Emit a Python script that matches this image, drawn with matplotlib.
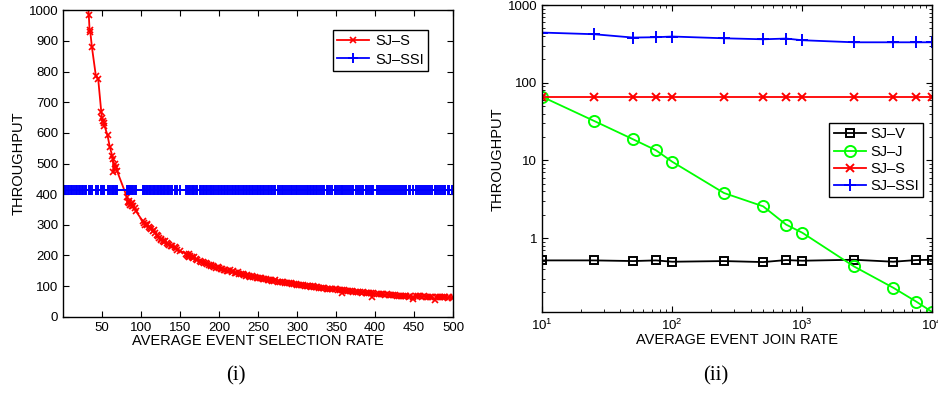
import matplotlib
matplotlib.use("Agg")
import matplotlib.pyplot as plt
from matplotlib.ticker import LogLocator, NullFormatter, FixedLocator

plt.rcParams['font.family'] = ['Liberation Sans', 'DejaVu Sans']
plt.rcParams['font.size'] = 9

# ---- panel (i): throughput vs selection rate ----
sel_rate = [1, 2, 4, 6, 8, 10, 12, 14, 16, 18, 20, 22, 24, 26, 28, 30, 33, 34, 35, 37,
            42, 45, 49, 50, 51, 52, 53, 57, 60, 63, 64, 64.5, 66, 68, 69,
            82, 83, 84, 85, 86, 87, 88, 89, 90, 92, 93,
            102, 104, 105, 107, 108, 110, 112, 113, 115, 116, 118, 120, 122, 123, 125, 126,
            128, 130, 131, 133, 135, 136, 138, 140, 143, 145, 146, 150,
            158, 159, 160, 161, 162, 163, 165, 166, 168, 170, 172, 175, 177, 179, 181, 183,
            185, 187, 189, 190, 192, 194, 196, 198, 200, 202, 204, 206, 208, 210, 212, 214,
            216, 218, 220, 222, 224, 226, 228, 230, 232, 234, 236, 238, 240, 242, 244, 246,
            248, 250, 252, 254, 256, 258, 260, 262, 264, 266, 268, 270, 272, 275, 278, 280,
            282, 285, 287, 290, 292, 294, 296, 298, 300, 302, 305, 307, 310, 312, 314, 316,
            318, 320, 322, 324, 326, 328, 330, 333, 335, 338, 340, 342, 345, 348, 350, 352,
            355, 357, 358, 360, 362, 365, 368, 370, 372, 375, 378, 380, 383, 385, 388, 390,
            392, 395, 396, 397, 402, 405, 408, 410, 412, 415, 418, 420, 423, 425, 428, 430,
            433, 435, 438, 440, 443, 445, 448, 449, 452, 455, 458, 460, 463, 465, 468, 470,
            473, 476, 478, 480, 483, 485, 488, 490, 493, 495, 498, 500]
sj_s_sel = [32500, 16250, 8125, 5400, 4060, 3250, 2710, 2320, 2030, 1800, 1625, 1480, 1350,
            1250, 1160, 1080, 985, 935, 928, 880,
            787, 777, 668, 647, 640, 631, 624, 592, 553, 526, 515, 471, 500, 490, 477,
            390, 375, 372, 378, 364, 368, 370, 360, 362, 355, 346,
            312, 305, 300, 303, 298, 292, 288, 285, 280, 283, 272, 268, 262, 258, 252, 255,
            248, 244, 246, 240, 237, 233, 232, 230, 226, 223, 218, 215,
            205, 200, 198, 204, 195, 199, 196, 192, 194, 189, 186, 183, 180, 178, 176, 175,
            172, 170, 168, 166, 165, 162, 160, 162, 158, 156, 155, 152, 154, 150, 148, 151,
            146, 149, 144, 142, 145, 140, 138, 139, 136, 134, 137, 133, 131, 132, 129, 130,
            127, 128, 126, 125, 123, 124, 122, 120, 121, 119, 118, 117, 119, 115, 114, 112,
            113, 111, 110, 109, 110, 108, 106, 107, 105, 104, 103, 104, 101, 100, 101, 99,
            98, 99, 97, 96, 97, 95, 94, 95, 93, 92, 91, 92, 90, 89, 90, 88,
            87, 78, 87, 86, 85, 84, 85, 83, 82, 81, 82, 80, 79, 80, 78, 77,
            78, 76, 66, 77, 75, 74, 75, 73, 72, 73, 71, 72, 70, 71, 69, 68,
            69, 68, 67, 68, 66, 67, 65, 57, 68, 67, 68, 66, 67, 65, 66, 65,
            64, 54, 64, 65, 64, 63, 64, 63, 62, 63, 62, 64]
sj_ssi_level = 413
sj_ssi_sel = [sj_ssi_level] * len(sel_rate)

# ---- panel (ii): throughput vs join rate ----
join_rate = [10, 25, 50, 75, 100, 250, 500, 750, 1000, 2500, 5000, 7500, 10000]
sj_v = [0.515, 0.515, 0.505, 0.515, 0.495, 0.505, 0.49, 0.52, 0.51, 0.525, 0.495, 0.52, 0.525]
sj_j = [66, 32.3, 18.7, 13.5, 9.6, 3.8, 2.56, 1.49, 1.17, 0.43, 0.229, 0.152, 0.111]
sj_s_join = [66, 66, 66, 66, 66, 66, 66, 66, 66, 66, 66, 66, 66]
sj_ssi_join = [443, 422, 382, 386, 394, 374, 363, 371, 353, 332, 332, 332, 332]

fig = plt.figure(figsize=(9.38, 3.94), dpi=100)
ax1 = fig.add_axes([0.0672, 0.196, 0.416, 0.778])
ax2 = fig.add_axes([0.578, 0.207, 0.416, 0.780])

ax1.plot(sel_rate, sj_s_sel, '-x', color='#ff0000', lw=1.3, ms=5, mew=1.2, label='SJ\u2013S')
ax1.plot(sel_rate, sj_ssi_sel, '-+', color='#0000ff', lw=1.3, ms=7, mew=1.4, label='SJ\u2013SSI')
ax1.set_xlim(0, 500)
ax1.set_ylim(0, 1000)
ax1.set_xticks(range(50, 501, 50))
ax1.set_yticks(range(0, 1001, 100))
ax1.set_xlabel('AVERAGE EVENT SELECTION RATE', labelpad=0, fontsize=10.5)
ax1.set_ylabel('THROUGHPUT', labelpad=2, fontsize=10.5)
ax1.legend(loc='upper right', bbox_to_anchor=(0.955, 0.96), fancybox=False, edgecolor='black',
           framealpha=1, handlelength=2.2, borderpad=0.3, labelspacing=0.3, handletextpad=0.4,
           fontsize=10.5)

ax2.plot(join_rate, sj_v, '-s', color='black', lw=1.3, ms=6, mfc='none', mew=1.4, label='SJ\u2013V')
ax2.plot(join_rate, sj_j, '-o', color='#00ff00', lw=1.3, ms=8, mfc='none', mew=1.4, label='SJ\u2013J')
ax2.plot(join_rate, sj_s_join, '-x', color='#ff0000', lw=1.3, ms=6, mew=1.4, label='SJ\u2013S')
ax2.plot(join_rate, sj_ssi_join, '-+', color='#0000ff', lw=1.3, ms=8, mew=1.4, label='SJ\u2013SSI')
ax2.set_xscale('log')
ax2.set_yscale('log')
ax2.set_xlim(10, 10000)
ax2.set_ylim(0.11, 1000)
ax2.yaxis.set_major_locator(FixedLocator([1, 10, 100, 1000]))
ax2.yaxis.set_major_formatter(plt.FuncFormatter(lambda v, p: '%d' % v))
ax2.yaxis.set_minor_locator(LogLocator(base=10, subs=range(2, 10)))
ax2.yaxis.set_minor_formatter(NullFormatter())
ax2.xaxis.set_minor_locator(LogLocator(base=10, subs=range(2, 10)))
ax2.xaxis.set_minor_formatter(NullFormatter())
ax2.set_xlabel('AVERAGE EVENT JOIN RATE', labelpad=0, fontsize=10.5)
ax2.set_ylabel('THROUGHPUT', labelpad=2, fontsize=10.5)
ax2.legend(loc='upper right', bbox_to_anchor=(0.995, 0.64), fancybox=False, edgecolor='black',
           framealpha=1, handlelength=2.2, borderpad=0.3, labelspacing=0.22, handletextpad=0.3,
           fontsize=10.5)

for ax in (ax1, ax2):
    ax.tick_params(which='both', direction='in', top=True, right=True, labelsize=9.5)
    ax.tick_params(which='major', length=4, width=0.8)
    ax.tick_params(which='minor', length=2, width=0.6)
    for sp in ax.spines.values():
        sp.set_linewidth(1.0)

fig.text(0.251, 0.045, '(i)', family=['Liberation Serif', 'DejaVu Serif'], fontsize=15,
         ha='center', va='center')
fig.text(0.763, 0.045, '(ii)', family=['Liberation Serif', 'DejaVu Serif'], fontsize=15,
         ha='center', va='center')

fig.savefig('out.png', dpi=100)
